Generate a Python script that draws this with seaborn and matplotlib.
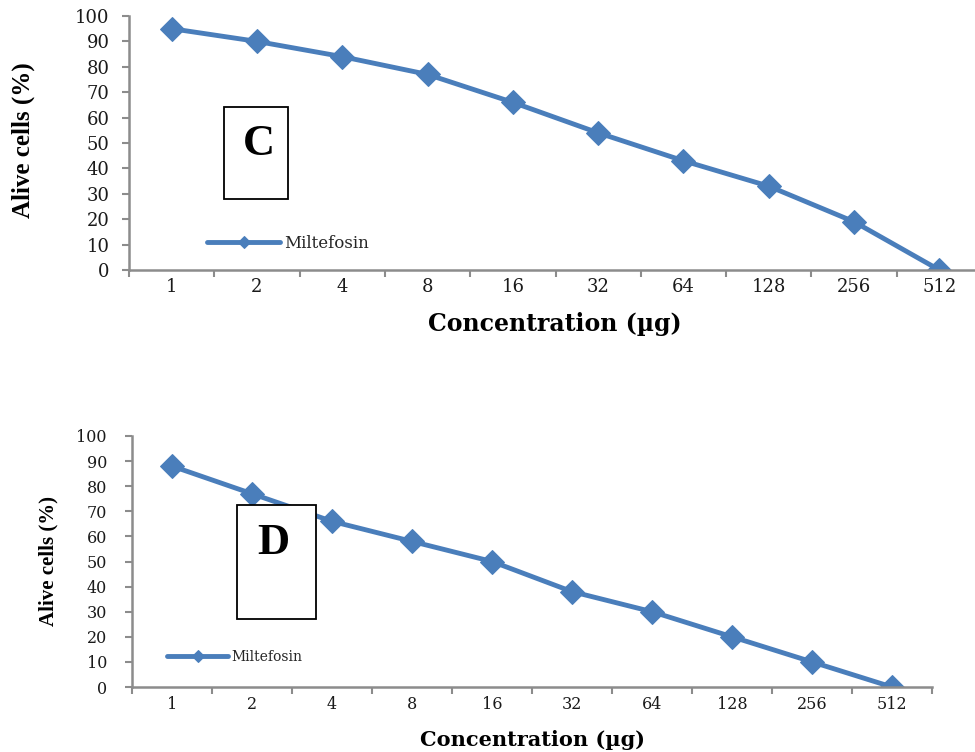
import matplotlib
matplotlib.use("Agg")
import matplotlib.pyplot as plt
import seaborn as sns
import pandas as pd
from matplotlib.patches import Rectangle

# --- data ---
concentrations = ["1", "2", "4", "8", "16", "32", "64", "128", "256", "512"]
alive_c = [95, 90, 84, 77, 66, 54, 43, 33, 19, 0]
alive_d = [88, 77, 66, 58, 50, 38, 30, 20, 10, 0]
series_name = "Miltefosin"
y_ticks = list(range(0, 101, 10))

sns.set_theme(style="white")
plt.rcParams['font.family'] = ['DejaVu Serif', 'Liberation Serif']

blue = '#4a7ebb'
grey = '#8c8c8c'

fig = plt.figure(figsize=(9.75, 7.52), dpi=100)
W, H = 975, 752


def px_axes(left, top, right, bottom):
    return fig.add_axes([left / W, 1 - bottom / H, (right - left) / W, (bottom - top) / H])


def draw_panel(ax, values, tick_size, ypad, xpad, xlab_size, ylab_size, xlab_pos, ylab_pos,
               leg_pos, leg_size):
    df = pd.DataFrame({'conc': concentrations, 'alive': values})
    sns.lineplot(data=df, x='conc', y='alive', ax=ax, color=blue, linewidth=3.5,
                 marker='D', markersize=12, markeredgecolor=blue, label=series_name)
    ax.set_xlim(-0.5, len(concentrations) - 0.5)
    ax.set_ylim(0, 100)
    ax.set_yticks(y_ticks)
    ax.set_xticks(range(len(concentrations)))
    ax.set_xticklabels(concentrations)
    ax.set_xticks([i - 0.5 for i in range(len(concentrations) + 1)], minor=True)
    ax.tick_params(axis='x', which='major', length=0, pad=xpad, labelsize=tick_size, colors='#1a1a1a')
    ax.tick_params(axis='x', which='minor', length=5, width=1.5, color=grey, direction='out', bottom=True)
    ax.tick_params(axis='y', length=5, width=1.5, color=grey, direction='out', left=True,
                   pad=ypad, labelsize=tick_size, labelcolor='#1a1a1a')
    for s in ['top', 'right']:
        ax.spines[s].set_visible(False)
    for s in ['left', 'bottom']:
        ax.spines[s].set_color(grey)
        ax.spines[s].set_linewidth(1.8)
    ax.set_xlabel('Concentration (µg)', fontsize=xlab_size, fontweight='bold', color='black')
    ax.set_ylabel('Alive cells (%)', fontsize=ylab_size, fontweight='bold', color='black',
                  family='Liberation Serif')
    ax.xaxis.set_label_coords(*xlab_pos)
    ax.yaxis.set_label_coords(*ylab_pos)
    ax.legend(loc='center left', bbox_to_anchor=(leg_pos[0] / W, 1 - leg_pos[1] / H),
              bbox_transform=fig.transFigure, frameon=False, fontsize=leg_size,
              handlelength=4.4, handletextpad=0.25, borderpad=0, borderaxespad=0,
              markerscale=0.55)


def letter_box(left, top, right, bottom, letter, cx, cy):
    # white-filled label box sitting on top of the plot
    fig.patches.append(Rectangle((left / W, 1 - bottom / H), (right - left) / W, (bottom - top) / H,
                                 transform=fig.transFigure, facecolor='white', edgecolor='black',
                                 linewidth=1.3, zorder=5))
    fig.text(cx / W, 1 - cy / H, letter, ha='center', va='center', fontsize=32,
             fontweight='bold', family='Liberation Serif', color='black', zorder=6)


ax_c = px_axes(129, 16, 982, 270)
draw_panel(ax_c, alive_c, tick_size=13, ypad=9, xpad=6, xlab_size=17, ylab_size=18,
           xlab_pos=(0.4994, -0.165), ylab_pos=(-0.11, 0.51), leg_pos=(207, 243), leg_size=12)

ax_d = px_axes(132, 436, 932, 687)
draw_panel(ax_d, alive_d, tick_size=11.5, ypad=13, xpad=6.5, xlab_size=15, ylab_size=15,
           xlab_pos=(0.501, -0.17), ylab_pos=(-0.092, 0.5), leg_pos=(167, 657), leg_size=10)

letter_box(224, 107, 288, 199, 'C', 259, 144)
letter_box(237, 505, 316, 619, 'D', 273, 543)

fig.savefig('out.png', dpi=100)
